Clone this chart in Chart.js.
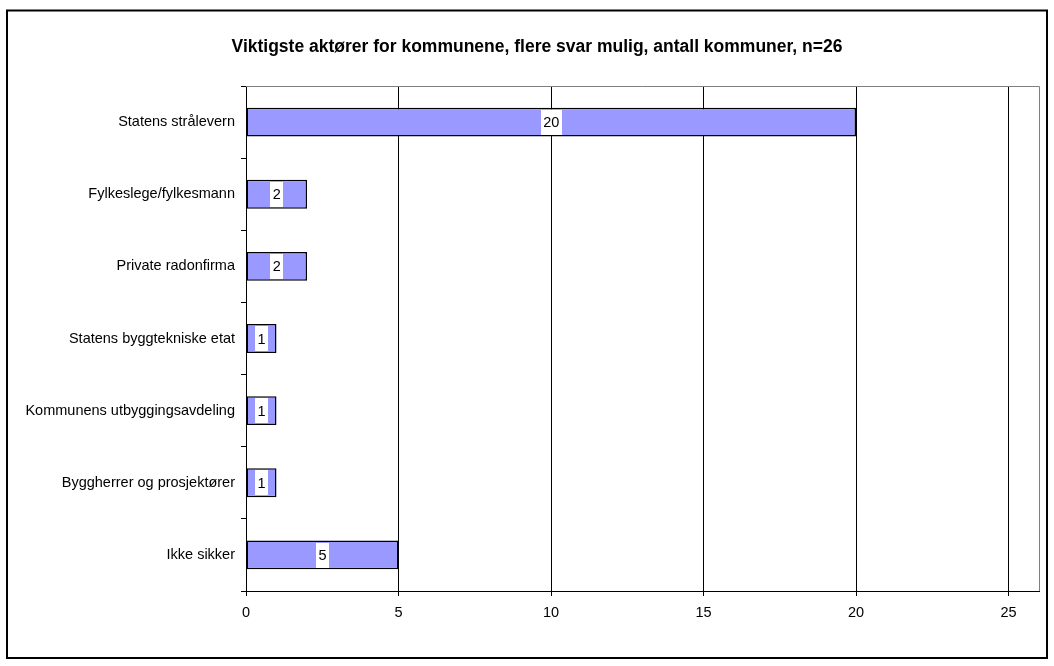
<!DOCTYPE html>
<html><head><meta charset="utf-8">
<script src="https://cdn.jsdelivr.net/npm/chart.js@4/dist/chart.umd.min.js"></script>
<style>html,body{margin:0;padding:0;background:#fff}#wrap{width:1054px;height:666px;position:relative}</style>
</head><body><div id="wrap"><canvas id="c" width="1054" height="666"></canvas></div>
<script>
const titleText = 'Viktigste aktører for kommunene, flere svar mulig, antall kommuner, n=26';
const categories = ['Statens strålevern','Fylkeslege/fylkesmann','Private radonfirma','Statens byggtekniske etat','Kommunens utbyggingsavdeling','Byggherrer og prosjektører','Ikke sikker'];
const values = [20, 2, 2, 1, 1, 1, 5];
const xTicks = [0, 5, 10, 15, 20, 25];
const xMax = 26;

const FONT = 'Liberation Sans, Arial, sans-serif';
Chart.defaults.font.family = FONT;
Chart.defaults.color = '#000';

const framePlugin = {
  id: 'frame',
  beforeDraw(chart) {
    const ctx = chart.ctx;
    ctx.save();
    ctx.fillStyle = '#fff';
    ctx.fillRect(0, 0, chart.width, chart.height);
    ctx.strokeStyle = '#000';
    ctx.lineWidth = 2;
    ctx.strokeRect(7, 10.5, 1040, 647.5);
    ctx.font = 'bold 17.5px ' + FONT;
    ctx.fillStyle = '#000';
    ctx.textAlign = 'center';
    ctx.textBaseline = 'alphabetic';
    ctx.fillText(titleText, 537, 52);
    ctx.restore();
  }
};

const plotBorderPlugin = {
  id: 'plotBorder',
  beforeDatasetsDraw(chart) {
    const a = chart.chartArea, ctx = chart.ctx;
    ctx.save();
    ctx.strokeStyle = '#808080';
    ctx.lineWidth = 1;
    ctx.beginPath();
    ctx.moveTo(a.left, a.top + 0.5);
    ctx.lineTo(a.right + 0.5, a.top + 0.5);
    ctx.lineTo(a.right + 0.5, a.bottom);
    ctx.stroke();
    ctx.restore();
  }
};

const valueLabelPlugin = {
  id: 'valueLabels',
  afterDatasetsDraw(chart) {
    const ctx = chart.ctx;
    const meta = chart.getDatasetMeta(0);
    ctx.save();
    ctx.font = '14.5px ' + FONT;
    ctx.textAlign = 'center';
    ctx.textBaseline = 'middle';
    meta.data.forEach((bar, i) => {
      const p = bar.getProps(['x', 'y', 'base', 'height'], true);
      const cx = (p.x + p.base) / 2;
      const txt = String(values[i]);
      const w = ctx.measureText(txt).width + 5;
      const h = p.height - 4;
      ctx.fillStyle = '#fff';
      ctx.fillRect(Math.round(cx - w / 2), Math.round(p.y - h / 2), Math.round(w), Math.round(h));
      ctx.fillStyle = '#000';
      ctx.fillText(txt, cx, p.y + 1);
    });
    ctx.restore();
  }
};

new Chart(document.getElementById('c'), {
  type: 'bar',
  data: {
    labels: categories,
    datasets: [{
      data: values,
      backgroundColor: '#9999FF',
      borderColor: '#000',
      borderWidth: 1.5,
      borderSkipped: false,
      categoryPercentage: 1,
      barPercentage: 0.4
    }]
  },
  options: {
    indexAxis: 'y',
    responsive: false,
    animation: false,
    devicePixelRatio: 1,
    layout: { padding: { left: 10, right: 15, top: 86, bottom: 10 } },
    plugins: {
      legend: { display: false },
      tooltip: { enabled: false },
      title: { display: false }
    },
    scales: {
      x: {
        type: 'linear',
        min: 0,
        max: xMax,
        afterBuildTicks: s => { s.ticks = xTicks.map(v => ({ value: v })); },
        afterFit: s => { s.height = 65; },
        grid: { color: '#000', lineWidth: 1, drawTicks: true, tickLength: 5 },
        border: { color: '#000', width: 1 },
        ticks: { color: '#000', font: { size: 14.5 }, padding: 8, maxRotation: 0, autoSkip: false }
      },
      y: {
        type: 'category',
        afterFit: s => { s.width = 236; },
        grid: { drawOnChartArea: false, drawTicks: true, tickLength: 5, color: '#000', offset: true },
        border: { color: '#000', width: 1 },
        ticks: { color: '#000', font: { size: 14.5 }, padding: 6, autoSkip: false }
      }
    }
  },
  plugins: [framePlugin, plotBorderPlugin, valueLabelPlugin]
});
</script>
</body></html>
